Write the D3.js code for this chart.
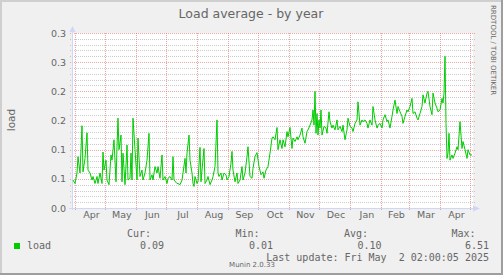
<!DOCTYPE html>
<html><head><meta charset="utf-8">
<script src="https://cdn.jsdelivr.net/npm/d3@7"></script>
<style>
html,body{margin:0;padding:0;background:#F0F0F0;}
svg{display:block;}
text{font-family:"DejaVu Sans",sans-serif;fill:#666;}
.mono{font-family:"DejaVu Sans Mono",monospace;font-size:10px;white-space:pre;}
</style></head>
<body>
<script>
// ---------- data ----------
const title = "Load average - by year";
const yLabel = "load";
const startDate = new Date(2024, 2, 28, 2, 0, 5);
const endDate = new Date(2025, 4, 2, 2, 0, 5);
// day number since startDate
const dayNumbers = [
 1,3,5,6,8,10,11,13,15,16, 18,20,21,23,25,26,28,30,31,32, 34,35,37,39,40,42,44,45,46,47,
 49,50,51,53,55,56,58,59,60,61, 63,65,66,68,70,71,73,75,77,78, 80,81,83,85,86,88,90,91,93,95,
 96,98,100,101,102,105,106,108,110,111, 113,114,115,117,118,120,121,122,123,125,
 126,128,129,130,132,133,135,136,138,140, 141,143,145,146,147,149,150,152,154,155,
 157,159,160,161,163,165,166,168,170,171, 173,175,176,178,
 180,181,183,185,187,189,191,192,194,196, 198,200,201,203,205,206,208,210,211,213,
 215,216,218,220,221,223,225,226,228,230, 231,233,235,236,238,240,241,242,243,244,
 245,246,247,248,249,250,252,254,255,257, 258,260,261,263,265,266,268,270,271,273,
 275,276,278,280,281,283,285,286,288,290, 291,293,295,296,298,300,301,303,305,306,
 308,310,311,313,315,316,318,320,321,323, 325,326,328,330,331,333,335,336,338,340,
 341,343,345,346,348,350,351,353,355,356, 358,360,361,363,365,366,368,370,371,372,
 373,374,375,376,377,378,380,381,383,385, 386,388,390,391,393,395,396,398,400
];
const loadValues = [
 .048,.042,.060,.088,.060,.141,.062,.085,.129,.065, .060,.048,.054,.042,.054,.042,.060,.042,.096,.065,
 .082,.048,.040,.091,.082,.117,.045,.105,.154,.100, .125,.045,.094,.040,.108,.048,.051,.094,.048,.154,
 .100,.048,.120,.054,.065,.048,.060,.082,.128,.048, .057,.048,.071,.060,.071,.051,.091,.048,.054,.042,
 .051,.054,.048,.088,.048,.042,.042,.040,.048,.060, .085,.060,.094,.125,.082,.060,.042,.037,.054,.042,
 .045,.104,.045,.065,.102,.042,.048,.054,.040,.048, .054,.071,.151,.060,.054,.060,.048,.060,.057,.048,
 .054,.077,.097,.065,.045,.060,.042,.048,.071,.048, .060,.088,.105,.054,
 .051,.068,.088,.095,.071,.057,.062,.051,.065,.071, .094,.120,.122,.117,.138,.100,.117,.102,.117,.105,
 .131,.122,.138,.102,.120,.114,.122,.117,.125,.137, .122,.111,.131,.134,.142,.151,.168,.142,.200,.128,
 .162,.125,.151,.137,.168,.125,.140,.137,.128,.165, .148,.137,.142,.134,.151,.134,.140,.131,.142,.117,
 .134,.154,.140,.137,.131,.145,.151,.182,.142,.151, .148,.151,.145,.137,.151,.142,.174,.151,.137,.142,
 .145,.137,.151,.160,.148,.151,.137,.157,.168,.185, .162,.174,.165,.157,.145,.157,.168,.165,.174,.188,
 .162,.165,.154,.151,.162,.174,.194,.180,.197,.200, .174,.160,.197,.180,.171,.165,.168,.188,.180,.197,
 .260,.145,.085,.094,.128,.082,.091,.085,.094,.105, .100,.148,.102,.114,.100,.085,.100,.091,.091
];
const yTickValues = [0, 0.05, 0.10, 0.15, 0.20, 0.25, 0.30];
const yTickLabels = ["0.0","0.1","0.1","0.2","0.2","0.3","0.3"];
const yMinorStep = 0.01;
const monthLabels = ["Apr","May","Jun","Jul","Aug","Sep","Oct","Nov","Dec","Jan","Feb","Mar","Apr"];
const legendHeaders = ["Cur:","Min:","Avg:","Max:"];
const legendValues = ["0.09","0.01","0.10","6.51"];
const seriesName = "load";
const lastUpdate = "Last update: Fri May  2 02:00:05 2025";
const watermark = "RRDTOOL / TOBI OETIKER";
const footer = "Munin 2.0.33";

// ---------- layout ----------
const W = 503, H = 275;
const L = 72, R = 472, T = 33, B = 208;
const svg = d3.select("body").append("svg").attr("width", W).attr("height", H);

// frame
svg.append("rect").attr("width", W).attr("height", H).attr("fill", "#F0F0F0");
svg.append("path").attr("d", `M0,0H${W}V2H2V${H}H0Z`).attr("fill", "#CFCFCF");
svg.append("path").attr("d", `M${W},${H}H0V${H-2}H${W-2}V0H${W}Z`).attr("fill", "#9E9E9E");

const x = d3.scaleTime().domain([startDate, endDate]).range([L, R]);
const y = d3.scaleLinear().domain([0, 0.3]).range([B, T]);

svg.append("rect").attr("x", L).attr("y", T).attr("width", R - L + 1).attr("height", B - T).attr("fill", "#fff");

const grid = svg.append("g").attr("shape-rendering", "crispEdges");
// minor horizontal grid
const minor = d3.range(yMinorStep, 0.3 + 1e-9, yMinorStep).filter(v => Math.abs(v / 0.05 - Math.round(v / 0.05)) > 1e-6);
grid.selectAll(".mn").data(minor).join("line")
  .attr("x1", L - 2).attr("x2", R + 3)
  .attr("y1", d => Math.round(y(d)) + 0.5).attr("y2", d => Math.round(y(d)) + 0.5)
  .attr("stroke", "rgba(143,143,143,0.45)").attr("stroke-dasharray", "1,1");
// major horizontal grid
grid.selectAll(".mj").data(yTickValues.slice(1)).join("line")
  .attr("x1", L - 2).attr("x2", R + 3)
  .attr("y1", d => Math.round(y(d)) + 0.5).attr("y2", d => Math.round(y(d)) + 0.5)
  .attr("stroke", "rgba(222,80,80,0.5)").attr("stroke-dasharray", "1,1");
// month grid
const monthStarts = d3.timeMonth.range(d3.timeMonth.ceil(startDate), endDate);
grid.selectAll(".vm").data(monthStarts).join("line")
  .attr("x1", d => Math.floor(x(d)) + 0.5).attr("x2", d => Math.floor(x(d)) + 0.5)
  .attr("y1", T).attr("y2", B + 3)
  .attr("stroke", "rgba(222,80,80,0.5)").attr("stroke-dasharray", "1,1");

// axes lines
const axisCol = "#CFD6F8";
svg.append("line").attr("x1", L + 0.5).attr("x2", L + 0.5).attr("y1", B + 2).attr("y2", T - 2)
  .attr("stroke", axisCol);
svg.append("path").attr("d", `M${L - 2.5},${T - 1}L${L + 3.5},${T - 1}L${L + 0.5},${T - 7}Z`).attr("fill", axisCol);
svg.append("line").attr("x1", L - 3).attr("x2", R + 2).attr("y1", B + 0.5).attr("y2", B + 0.5)
  .attr("stroke", axisCol);
svg.append("path").attr("d", `M${R + 1},${B - 2.5}L${R + 1},${B + 3.5}L${R + 8},${B + 0.5}Z`).attr("fill", axisCol);

// y axis labels
const yAxis = d3.axisLeft(y).tickValues(yTickValues).tickSize(0).tickPadding(0)
  .tickFormat((d, i) => yTickLabels[i]);
const gy = svg.append("g").attr("transform", `translate(${L - 6},0)`).call(yAxis);
gy.select(".domain").remove();
gy.selectAll("text").attr("font-family", "DejaVu Sans").attr("font-size", 9.5).attr("fill", "#666");

// x axis labels centered in months
const monthMids = monthStarts.slice(0, monthLabels.length).map((d, i) => {
  const next = monthStarts[i + 1] || d3.timeMonth.offset(d, 1);
  return new Date((+d + +next) / 2);
});
const xAxis = d3.axisBottom(x).tickValues(monthMids).tickSize(0).tickPadding(0)
  .tickFormat((d, i) => monthLabels[i]);
const gx = svg.append("g").attr("transform", `translate(0,${B + 3})`).call(xAxis);
gx.select(".domain").remove();
gx.selectAll("text").attr("font-family", "DejaVu Sans").attr("font-size", 9.5).attr("fill", "#666");

// data line
const pts = dayNumbers.map((d, i) => ({ t: d3.timeDay.offset(startDate, d), v: loadValues[i] }));
svg.append("path").datum(pts)
  .attr("d", d3.line().x(d => x(d.t)).y(d => y(d.v)))
  .attr("fill", "none").attr("stroke", "#00CC00").attr("stroke-width", 1);

// title
svg.append("text").attr("x", 251).attr("y", 17.5).attr("text-anchor", "middle")
  .attr("font-size", 12.5).attr("fill", "#555").text(title);
// y label
svg.append("text").attr("transform", "translate(15,120) rotate(-90)").attr("text-anchor", "middle")
  .attr("font-size", 10.5).attr("fill", "#666").text(yLabel);
// watermark
svg.append("text").attr("transform", "translate(493,5) rotate(90)").attr("dominant-baseline", "central")
  .attr("font-size", 7).attr("fill", "#d2d2d2").text(watermark);

// legend
svg.append("rect").attr("x", 14).attr("y", 243).attr("width", 6).attr("height", 6).attr("fill", "#00CC00");
svg.append("text").attr("class", "mono").attr("x", 27).attr("y", 248.5).text(seriesName);
const hdrX = [151, 259.5, 368, 475.5];
const valX = [164, 273, 381.5, 489];
legendHeaders.forEach((h, i) => {
  svg.append("text").attr("class", "mono").attr("x", hdrX[i]).attr("y", 237).attr("text-anchor", "end").text(h);
  svg.append("text").attr("class", "mono").attr("x", valX[i]).attr("y", 248.5).attr("text-anchor", "end").text(legendValues[i]);
});
svg.append("text").attr("class", "mono").attr("x", 489).attr("y", 261).attr("text-anchor", "end").text(lastUpdate);
svg.append("text").attr("x", 252).attr("y", 267).attr("text-anchor", "middle")
  .attr("font-size", 7).attr("fill", "#c4c4c4").text(footer);
</script>
</body></html>
